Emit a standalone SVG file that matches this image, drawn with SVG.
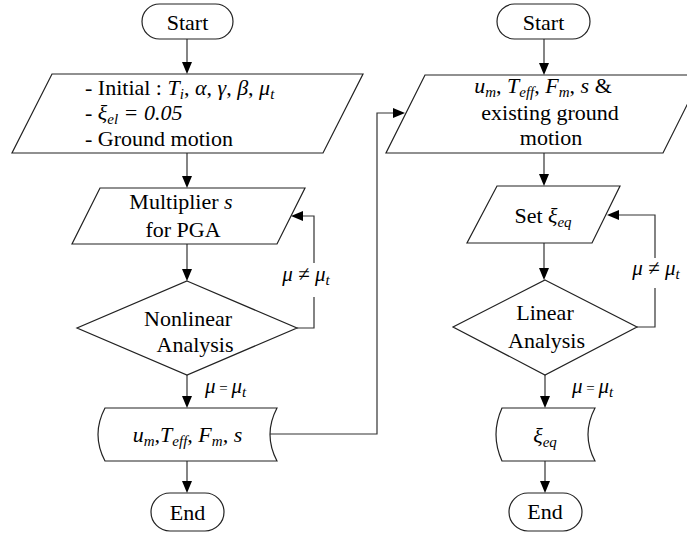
<svg xmlns="http://www.w3.org/2000/svg" width="687" height="533" viewBox="0 0 687 533">
<rect width="687" height="533" fill="#fff"/>

<g id="connectors" fill="none" stroke="#333" stroke-width="1.2">
<path d="M187,39 V63"/>
<path d="M187,153 V177"/>
<path d="M187,244 V270"/>
<path d="M187,375 V397"/>
<path d="M187,461 V482"/>
<path d="M297,328 H314 V297 M314,263 V216 H302"/>
<path d="M270,434 H377 V113 H394"/>
<path d="M544,39 V64"/>
<path d="M544,153 V175"/>
<path d="M544,243 V269"/>
<path d="M545,375 V397"/>
<path d="M545,461 V482"/>
<path d="M637,327 H655 V288 M655,258 V215 H618"/>
<g fill="#000" stroke="none">
<polygon points="182,62 192,62 187,74"/>
<polygon points="182,176 192,176 187,188"/>
<polygon points="182,269 192,269 187,281"/>
<polygon points="182,396 192,396 187,408"/>
<polygon points="182,481 192,481 187,493"/>
<polygon points="303,211 303,221 291,216"/>
<polygon points="393,108 393,118 405,113"/>
<polygon points="539,63 549,63 544,75"/>
<polygon points="539,174 549,174 544,186"/>
<polygon points="539,268 549,268 544,280"/>
<polygon points="540,396 550,396 545,408"/>
<polygon points="540,481 550,481 545,493"/>
<polygon points="619,210 619,220 607,215"/>
</g>
</g>

<g id="start1">
<rect fill="#fff" stroke="#222" stroke-width="1.2" x="142" y="4" width="91" height="35" rx="17.5"/>
<text font-family="Liberation Serif" font-size="22" text-anchor="middle" x="187.5" y="30">Start</text>
</g>

<g id="input1">
<path fill="#fff" stroke="#222" stroke-width="1.2" d="M52,74 L363,74 L323,153 L12,153 Z"/>
<text font-family="Liberation Serif" font-size="22" x="85" y="95">- Initial : <tspan font-style="italic">T</tspan><tspan font-style="italic" font-size="15" dy="4">i</tspan><tspan dy="-4">, </tspan><tspan font-style="italic">α</tspan>, <tspan font-style="italic">γ</tspan>, <tspan font-style="italic">β</tspan>, <tspan font-style="italic">μ</tspan><tspan font-style="italic" font-size="15" dy="4">t</tspan></text>
<text font-family="Liberation Serif" font-size="22" x="85" y="120">- <tspan font-style="italic">ξ</tspan><tspan font-style="italic" font-size="15" dy="4">el</tspan><tspan font-style="italic" dy="-4"> = 0.05</tspan></text>
<text font-family="Liberation Serif" font-size="22" x="85" y="146">- Ground motion</text>
</g>

<g id="multiplier">
<path fill="#fff" stroke="#222" stroke-width="1.2" d="M100,188 L305,188 L277,244 L72,244 Z"/>
<text font-family="Liberation Serif" font-size="22" text-anchor="middle" x="181" y="209">Multiplier <tspan font-style="italic">s</tspan></text>
<text font-family="Liberation Serif" font-size="22" text-anchor="middle" x="183" y="237">for PGA</text>
</g>

<g id="nonlinear">
<path fill="#fff" stroke="#222" stroke-width="1.2" d="M187,281 L297,328 L187,375 L77,328 Z"/>
<text font-family="Liberation Serif" font-size="22" text-anchor="middle" x="188" y="326">Nonlinear</text>
<text font-family="Liberation Serif" font-size="22" text-anchor="middle" x="195" y="352">Analysis</text>
</g>

<g id="output1">
<path fill="#fff" stroke="#222" stroke-width="1.2" d="M105,408 L277,408 Q263,434.5 277,461 L105,461 Q91,434.5 105,408 Z"/>
<text font-family="Liberation Serif" font-size="22" font-style="italic" text-anchor="middle" x="187.5" y="442">u<tspan font-size="15" dy="4">m</tspan><tspan dy="-4">,T</tspan><tspan font-size="15" dy="4">eff</tspan><tspan dy="-4">, F</tspan><tspan font-size="15" dy="4">m</tspan><tspan dy="-4">, s</tspan></text>
</g>

<g id="end1">
<rect fill="#fff" stroke="#222" stroke-width="1.2" x="151" y="493" width="73" height="38" rx="19"/>
<text font-family="Liberation Serif" font-size="22" text-anchor="middle" x="187.5" y="520">End</text>
</g>

<g id="label-ne1">
<text font-family="Liberation Serif" font-size="21" text-anchor="middle" x="306" y="281"><tspan font-style="italic">μ</tspan> ≠ <tspan font-style="italic">μ</tspan><tspan font-style="italic" font-size="15" dy="4">t</tspan></text>
</g>
<g id="label-eq1">
<text font-family="Liberation Serif" font-size="21" x="205" y="393"><tspan font-style="italic">μ</tspan><tspan font-size="15"> = </tspan><tspan font-style="italic">μ</tspan><tspan font-style="italic" font-size="15" dy="4">t</tspan></text>
</g>

<g id="start2">
<rect fill="#fff" stroke="#222" stroke-width="1.2" x="497" y="4" width="93" height="35" rx="17.5"/>
<text font-family="Liberation Serif" font-size="22" text-anchor="middle" x="543.5" y="30">Start</text>
</g>

<g id="input2">
<path fill="#fff" stroke="#222" stroke-width="1.2" d="M425,75 L702,75 L663,153 L386,153 Z"/>
<text font-family="Liberation Serif" font-size="22" text-anchor="middle" x="543" y="93"><tspan font-style="italic">u</tspan><tspan font-style="italic" font-size="15" dy="4">m</tspan><tspan dy="-4">, </tspan><tspan font-style="italic">T</tspan><tspan font-style="italic" font-size="15" dy="4">eff</tspan><tspan dy="-4">,  </tspan><tspan font-style="italic">F</tspan><tspan font-style="italic" font-size="15" dy="4">m</tspan><tspan dy="-4">, </tspan><tspan font-style="italic">s</tspan> &amp;</text>
<text font-family="Liberation Serif" font-size="22" text-anchor="middle" x="550" y="120">existing ground</text>
<text font-family="Liberation Serif" font-size="22" text-anchor="middle" x="551" y="145">motion</text>
</g>

<g id="setxi">
<path fill="#fff" stroke="#222" stroke-width="1.2" d="M497,186 L620,186 L592,243 L467,243 Z"/>
<text font-family="Liberation Serif" font-size="22" text-anchor="middle" x="543" y="223">Set <tspan font-style="italic">ξ</tspan><tspan font-style="italic" font-size="15" dy="4">eq</tspan></text>
</g>

<g id="linear">
<path fill="#fff" stroke="#222" stroke-width="1.2" d="M545,280 L637,327 L545,375 L453,327 Z"/>
<text font-family="Liberation Serif" font-size="22" text-anchor="middle" x="545" y="320">Linear</text>
<text font-family="Liberation Serif" font-size="22" text-anchor="middle" x="546.5" y="348">Analysis</text>
</g>

<g id="output2">
<path fill="#fff" stroke="#222" stroke-width="1.2" d="M502,408 L595,408 Q581,434.5 595,461 L502,461 Q490,434.5 502,408 Z"/>
<text font-family="Liberation Serif" font-size="22" font-style="italic" text-anchor="middle" x="545" y="443">ξ<tspan font-size="15" dy="4">eq</tspan></text>
</g>

<g id="end2">
<rect fill="#fff" stroke="#222" stroke-width="1.2" x="509" y="493" width="73" height="38" rx="19"/>
<text font-family="Liberation Serif" font-size="22" text-anchor="middle" x="545" y="519">End</text>
</g>

<g id="label-ne2">
<text font-family="Liberation Serif" font-size="21" text-anchor="middle" x="656" y="275"><tspan font-style="italic">μ</tspan> ≠ <tspan font-style="italic">μ</tspan><tspan font-style="italic" font-size="15" dy="4">t</tspan></text>
</g>
<g id="label-eq2">
<text font-family="Liberation Serif" font-size="21" x="572" y="393"><tspan font-style="italic">μ</tspan><tspan font-size="15"> = </tspan><tspan font-style="italic">μ</tspan><tspan font-style="italic" font-size="15" dy="4">t</tspan></text>
</g>
</svg>
